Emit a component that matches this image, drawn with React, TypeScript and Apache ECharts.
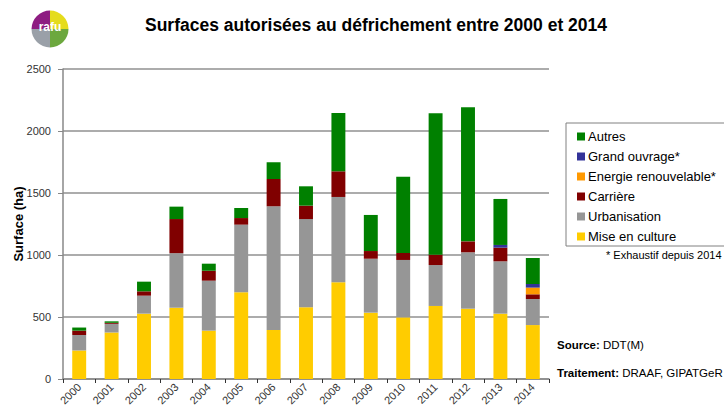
import React, { useEffect, useRef } from "react";
import * as echarts from "echarts";

const years = ["2000","2001","2002","2003","2004","2005","2006","2007","2008","2009","2010","2011","2012","2013","2014"];
const miseEnCulture = [230, 375, 527, 575, 390, 700, 395, 578, 780, 535, 497, 589, 567, 527, 435];
const urbanisation = [125, 70, 145, 440, 403, 545, 998, 712, 688, 435, 463, 330, 455, 422, 210];
const carriere = [35, 8, 35, 275, 80, 53, 220, 108, 207, 62, 56, 84, 88, 110, 38];
const energie = [0, 0, 0, 0, 0, 0, 0, 0, 0, 0, 0, 0, 0, 0, 54];
const grandOuvrage = [0, 0, 0, 0, 0, 0, 0, 0, 0, 0, 0, 0, 0, 22, 29];
const autres = [25, 12, 78, 100, 57, 81, 135, 156, 470, 291, 616, 1140, 1081, 371, 210];
const yTicks = [0, 500, 1000, 1500, 2000, 2500];

const seriesDefs = [
  { name: "Mise en culture", data: miseEnCulture, color: "#FFCC00" },
  { name: "Urbanisation", data: urbanisation, color: "#969696" },
  { name: "Carrière", data: carriere, color: "#800000" },
  { name: "Energie renouvelable*", data: energie, color: "#FF9900" },
  { name: "Grand ouvrage*", data: grandOuvrage, color: "#333399" },
  { name: "Autres", data: autres, color: "#008000" },
];

export default function App() {
  const ref = useRef<HTMLDivElement>(null);
  useEffect(() => {
    if (!ref.current) return;
    const chart = echarts.init(ref.current, null, { renderer: "svg" });
    const font = "Liberation Sans, Arial, sans-serif";
    chart.setOption({
      animation: false,
      backgroundColor: "#ffffff",
      textStyle: { fontFamily: font },
      title: {
        text: "Surfaces autorisées au défrichement entre 2000 et 2014",
        left: 371,
        top: 11,
        textAlign: "center",
        textStyle: { fontSize: 17.5, fontWeight: "bold", color: "#000", fontFamily: font },
      },
      grid: { left: 63, right: 175, top: 69, bottom: 33, containLabel: false, outerBoundsMode: "none" },
      legend: {
        orient: "vertical",
        left: 577,
        top: 129,
        padding: 0,
        itemWidth: 8,
        itemHeight: 8,
        itemGap: 5,
        icon: "rect",
        data: [...seriesDefs].reverse().map((s) => s.name),
        textStyle: { fontSize: 13, color: "#000", fontFamily: font, lineHeight: 15, padding: [0, 0, 0, -2] },
      },
      xAxis: {
        type: "category",
        data: years,
        axisLine: { lineStyle: { color: "#888", width: 1.5 } },
        axisTick: { show: true, length: 4, lineStyle: { color: "#333" } },
        axisLabel: { rotate: 45, fontSize: 11, color: "#333", margin: 6, fontFamily: font },
      },
      yAxis: {
        type: "value",
        min: 0,
        max: 2500,
        interval: 500,
        name: "Surface (ha)",
        nameLocation: "middle",
        nameGap: 38,
        nameMoveOverlap: false,
        nameTextStyle: { fontSize: 13, fontWeight: "bold", color: "#000", fontFamily: font },
        axisLine: { show: true, lineStyle: { color: "#888", width: 1.5 } },
        axisTick: { show: true, length: 5, lineStyle: { color: "#888" } },
        axisLabel: {
          fontSize: 11,
          color: "#333",
          margin: 12,
          fontFamily: font,
          formatter: (v: number) => (yTicks.includes(v) ? String(v) : ""),
        },
        splitLine: { show: true, lineStyle: { color: "#909090", width: 1.5 } },
      },
      series: seriesDefs.map((s) => ({
        name: s.name,
        type: "bar",
        stack: "total",
        data: s.data,
        barWidth: "43%",
        itemStyle: { color: s.color },
      })),
      graphic: [
        {
          type: "rect",
          shape: { x: 566, y: 123, width: 200, height: 123 },
          style: { fill: "none", stroke: "#808080", lineWidth: 1 },
          z: -1,
        },
        {
          type: "text",
          x: 606,
          y: 249,
          style: { text: "* Exhaustif depuis 2014", fontSize: 11, fill: "#000", fontFamily: font },
        },
        {
          type: "text",
          x: 557,
          y: 339,
          style: {
            text: "{b|Source:} DDT(M)",
            fontSize: 11.5,
            fill: "#000",
            fontFamily: font,
            rich: { b: { fontWeight: "bold", fontSize: 11.5, fontFamily: font } },
          },
        },
        {
          type: "text",
          x: 557,
          y: 367,
          style: {
            text: "{b|Traitement:} DRAAF, GIPATGeR",
            fontSize: 11.5,
            fill: "#000",
            fontFamily: font,
            rich: { b: { fontWeight: "bold", fontSize: 11.5, fontFamily: font } },
          },
        },
        {
          type: "group",
          children: [
            { type: "sector", shape: { cx: 50, cy: 29, r: 18.5, r0: 0, startAngle: Math.PI, endAngle: Math.PI * 1.5 }, style: { fill: "#8E1D82" } },
            { type: "sector", shape: { cx: 50, cy: 29, r: 18.5, r0: 0, startAngle: Math.PI * 1.5, endAngle: Math.PI * 2 }, style: { fill: "#E5DC1C" } },
            { type: "sector", shape: { cx: 50, cy: 29, r: 18.5, r0: 0, startAngle: 0, endAngle: Math.PI * 0.5 }, style: { fill: "#6CA83E" } },
            { type: "sector", shape: { cx: 50, cy: 29, r: 18.5, r0: 0, startAngle: Math.PI * 0.5, endAngle: Math.PI }, style: { fill: "#9AA0A8" } },
            {
              type: "text",
              x: 50,
              y: 27,
              style: { text: "rafu", fontSize: 12, fontWeight: "bold", fill: "#fff", align: "center", verticalAlign: "middle", fontFamily: font },
            },
          ],
        },
      ],
    });
    return () => chart.dispose();
  }, []);
  return <div ref={ref} style={{ position: "fixed", left: 0, top: 0, width: 724, height: 412 }} />;
}
